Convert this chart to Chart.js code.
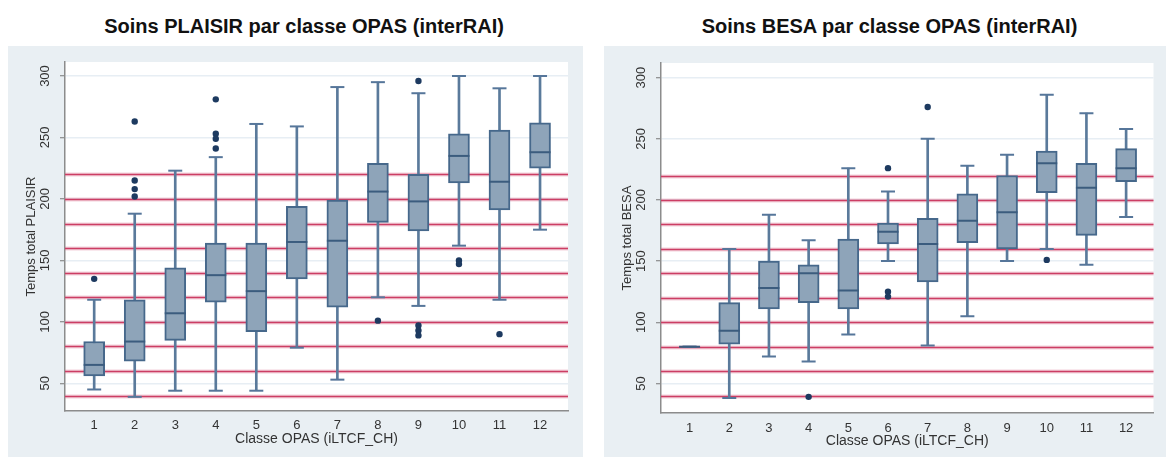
<!DOCTYPE html>
<html>
<head>
<meta charset="utf-8">
<title>Soins par classe OPAS</title>
<script src="https://cdn.jsdelivr.net/npm/chart.js@4.4.1/dist/chart.umd.min.js"></script>
<style>
	body { margin:0; background:#fff; width:1166px; height:457px; position:relative; overflow:hidden; font-family:"Liberation Sans", Arial, sans-serif; }
	.titre { position:absolute; top:14px; font-weight:bold; font-size:20px; line-height:24px; text-align:center; color:#111; white-space:nowrap; }
	#c1 { position:absolute; left:8px; top:46px; }
	#c2 { position:absolute; left:604px; top:46px; }
</style>
</head>
<body>
<div class="titre" style="left:104px;width:400px">Soins PLAISIR par classe OPAS (interRAI)</div>
<div class="titre" style="left:701px;width:377px">Soins BESA par classe OPAS (interRAI)</div>
<canvas id="c1" width="575" height="411"></canvas>
<canvas id="c2" width="562" height="411"></canvas>
<script>
var classes = [1, 2, 3, 4, 5, 6, 7, 8, 9, 10, 11, 12];
var yTicks = [50, 100, 150, 200, 250, 300];
var refLines = [40, 60, 80, 100, 120, 140, 160, 180, 200, 220];

// PLAISIR (gauche)
var plaisirBas  = [45, 39, 44, 44, 44, 79, 53, 120, 113, 162, 118, 175];
var plaisirQ1   = [56, 68, 85, 116, 92, 135, 112, 181, 174, 213, 191, 225];
var plaisirMed  = [65, 84, 107, 138, 125, 165, 166, 206, 198, 235, 214, 238];
var plaisirQ3   = [84, 118, 144, 164, 164, 194, 199, 229, 220, 253, 256, 262];
var plaisirHaut = [118, 188, 223, 234, 261, 259, 291, 295, 286, 300, 290, 300];
var plaisirOutX = [1, 2, 2, 2, 2, 4, 4, 4, 4, 8, 9, 9, 9, 9, 10, 10, 11];
var plaisirOutY = [135, 263, 215, 208, 202, 281, 253, 249, 241, 101, 296, 97, 93, 89, 150, 147, 90];

// BESA (droite)
var besaBas  = [80, 38, 72, 68, 90, 150, 81, 105, 150, 160, 147, 186];
var besaQ1   = [80, 82, 111, 116, 111, 164, 133, 165, 160, 206, 171, 215];
var besaMed  = [80, 93, 128, 140, 126, 174, 164, 183, 190, 230, 210, 226];
var besaQ3   = [80, 116, 150, 147, 168, 181, 185, 205, 220, 240, 230, 242];
var besaHaut = [80, 160, 188, 167, 226, 207, 250, 228, 237, 286, 271, 258];
var besaOutX = [4, 6, 6, 6, 7, 10];
var besaOutY = [39, 226, 125, 121, 276, 151];

Chart.defaults.font.family = '"Liberation Sans", Arial, sans-serif';
Chart.defaults.color = '#333';

// fond du panneau + zone blanche
var fondPlugin = {
	id: 'fond',
	beforeDraw: function(chart) {
		var ctx = chart.ctx, a = chart.chartArea;
		ctx.save();
		ctx.fillStyle = '#e9eff3';
		ctx.fillRect(0, 0, chart.width, chart.height);
		ctx.fillStyle = '#ffffff';
		ctx.fillRect(a.left, a.top, a.right - a.left, a.bottom - a.top);
		ctx.restore();
	}
};

// lignes rouges de référence, sous les boîtes
var lignesPlugin = {
	id: 'lignes',
	beforeDatasetsDraw: function(chart) {
		var ctx = chart.ctx, a = chart.chartArea, ys = chart.scales.y;
		ctx.save();
		refLines.forEach(function(v) {
			var y = Math.round(ys.getPixelForValue(v)) + 0.5;
			ctx.beginPath();
			ctx.moveTo(a.left, y);
			ctx.lineTo(a.right, y);
			ctx.strokeStyle = 'rgba(222,120,150,0.35)';
			ctx.lineWidth = 4;
			ctx.stroke();
			ctx.strokeStyle = '#cc3e64';
			ctx.lineWidth = 1.6;
			ctx.stroke();
		});
		ctx.restore();
	}
};

function pts(xs, ys) {
	return xs.map(function(x, i) { return {x: x, y: ys[i]}; });
}

function dessine(id, bas, q1, med, q3, haut, outX, outY, titreY, yMin, yMax, pad, xHaut, xLabPad, xTitPad) {
	var whisk = classes.map(function(c, i) { return {x: c, y: [bas[i], haut[i]]}; });
	var boites = classes.map(function(c, i) { return {x: c, y: [q1[i], q3[i]]}; });
	var canvas = document.getElementById(id).getContext('2d');
	return new Chart(canvas, {
		type: 'bar',
		data: {
			datasets: [
				{ type: 'scatter', data: pts(outX, outY), pointStyle: 'circle', pointRadius: 3.2,
				  pointBackgroundColor: '#1d3a60', pointBorderWidth: 0, order: 1 },
				{ type: 'scatter', data: pts(classes, med), pointStyle: 'line', pointRadius: 10.5,
				  pointBorderColor: '#3b5c7e', pointBorderWidth: 2, order: 2 },
				{ type: 'scatter', data: pts(classes, bas), pointStyle: 'line', pointRadius: 7,
				  pointBorderColor: '#56769a', pointBorderWidth: 2, order: 2 },
				{ type: 'scatter', data: pts(classes, haut), pointStyle: 'line', pointRadius: 7,
				  pointBorderColor: '#56769a', pointBorderWidth: 2, order: 2 },
				{ type: 'bar', data: boites, barThickness: 21, grouped: false, borderSkipped: false,
				  backgroundColor: '#8ea4b9', borderColor: '#46688b', borderWidth: 2, order: 3 },
				{ type: 'bar', data: whisk, barThickness: 2, grouped: false,
				  backgroundColor: '#5a7a9b', borderWidth: 0, order: 4 }
			]
		},
		options: {
			responsive: false,
			animation: false,
			events: [],
			layout: { padding: pad },
			plugins: { legend: { display: false }, tooltip: { enabled: false } },
			scales: {
				x: {
					type: 'linear', min: 0.28, max: 12.69, offset: false,
					afterBuildTicks: function(s) { s.ticks = classes.map(function(v) { return {value: v}; }); },
					afterFit: function(s) { s.height = xHaut; },
					ticks: { font: { size: 13 }, color: '#333', padding: xLabPad, maxRotation: 0, autoSkip: false },
					grid: { display: false, drawTicks: false, offset: false },
					border: { color: '#8c8c8c', width: 1.5 },
					title: { display: true, text: 'Classe OPAS (iLTCF_CH)', font: { size: 14 }, color: '#333',
					         padding: { top: 0, bottom: xTitPad } }
				},
				y: {
					type: 'linear', min: yMin, max: yMax, beginAtZero: false,
					afterBuildTicks: function(s) { s.ticks = yTicks.map(function(v) { return {value: v}; }); },
					afterFit: function(s) { s.width = 57; },
					ticks: { font: { size: 13 }, color: '#333', minRotation: 90, maxRotation: 90,
					         crossAlign: 'center', padding: 4 },
					grid: { color: '#e7eef4', lineWidth: 1.5, tickColor: '#777', tickLength: 5, tickWidth: 1 },
					border: { color: '#8c8c8c', width: 1.5 },
					title: { display: true, text: titreY, font: { size: 13 }, color: '#333',
					         padding: { top: 16, bottom: 0 } }
				}
			}
		},
		plugins: [fondPlugin, lignesPlugin]
	});
}

dessine('c1', plaisirBas, plaisirQ1, plaisirMed, plaisirQ3, plaisirHaut, plaisirOutX, plaisirOutY,
	'Temps total PLAISIR', 27.5, 311.4, { left: 0, top: 16, right: 15, bottom: 0 }, 46, 7, 9.5);
dessine('c2', besaBas, besaQ1, besaMed, besaQ3, besaHaut, besaOutX, besaOutY,
	'Temps total BESA', 25.8, 312, { left: 0, top: 17, right: 3, bottom: 0 }, 44, 8, 7);
</script>
</body>
</html>
